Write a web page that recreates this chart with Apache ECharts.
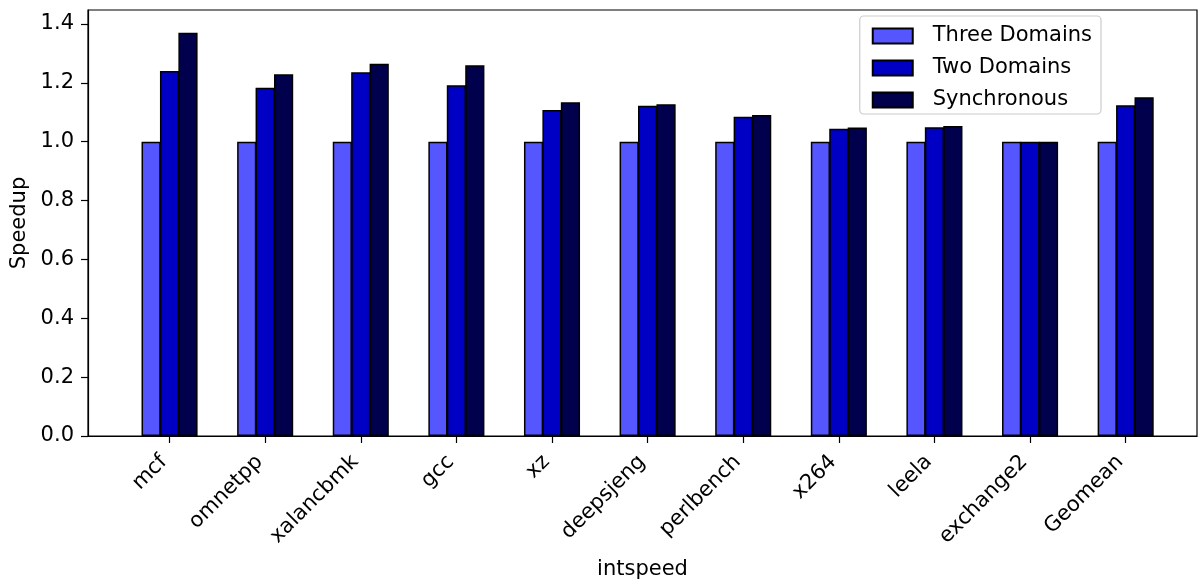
<!DOCTYPE html>
<html>
<head>
<meta charset="utf-8">
<script src="https://cdn.jsdelivr.net/npm/echarts@6/dist/echarts.min.js"></script>
<style>
html,body{margin:0;padding:0;background:#fff;}
#chart{width:1198px;height:580px;}
</style>
</head>
<body>
<div id="chart"></div>
<script>
const categories = ['mcf','omnetpp','xalancbmk','gcc','xz','deepsjeng','perlbench','x264','leela','exchange2','Geomean'];
const threeDomains = [1.0,1.0,1.0,1.0,1.0,1.0,1.0,1.0,1.0,1.0,1.0];
const twoDomains = [1.240,1.183,1.236,1.192,1.108,1.122,1.085,1.044,1.049,1.0,1.124];
const synchronous = [1.370,1.229,1.265,1.260,1.134,1.127,1.091,1.048,1.053,1.0,1.151];
const yTicks = [0,0.2,0.4,0.6,0.8,1.0,1.2,1.4];
const seriesNames = ['Three Domains','Two Domains','Synchronous'];

const font = 'DejaVu Sans';
const fs = 21;
const catIdx = categories.map((c,i)=>i);
function toData(arr){ return arr.map((v,i)=>[i,v]); }
const colors = ['#5656ff','#0000c4','#00004c'];
const values = [threeDomains, twoDomains, synchronous];

const chart = echarts.init(document.getElementById('chart'), null, {renderer:'canvas'});
chart.setOption({
  animation:false,
  backgroundColor:'#fff',
  grid:{left:88,right:1,top:10,bottom:144,show:true,borderColor:'#000',borderWidth:1.2,containLabel:false,outerBoundsMode:'none'},
  legend:{
    orient:'vertical', right:97, top:16,
    itemWidth:40, itemHeight:15, itemGap:10,
    padding:[9,9,3,12],
    backgroundColor:'rgba(255,255,255,0.85)',
    borderColor:'#cccccc', borderWidth:1.2, borderRadius:4,
    icon:'rect',
    textStyle:{fontFamily:font,fontSize:fs,color:'#000',padding:[0,0,0,15],lineHeight:22},
    data:seriesNames
  },
  xAxis:{
    type:'value', min:-0.853, max:10.746,
    name:'intspeed', nameLocation:'middle', nameGap:123,
    nameTextStyle:{fontFamily:font,fontSize:fs,color:'#000'},
    axisLine:{show:true,onZero:false,lineStyle:{color:'#000',width:1.2}},
    axisTick:{show:true,length:7,lineStyle:{color:'#000',width:1.2},customValues:catIdx},
    axisLabel:{fontFamily:font,fontSize:fs,color:'#000',rotate:45,margin:17,padding:[0,8,0,0],customValues:catIdx,
      formatter:(v)=>categories[Math.round(v)]},
    splitLine:{show:false}
  },
  yAxis:{
    type:'value', min:0, max:1.4475,
    name:'Speedup', nameLocation:'middle', nameGap:57,
    nameTextStyle:{fontFamily:font,fontSize:fs,color:'#000'},
    axisLine:{show:true,onZero:false,lineStyle:{color:'#000',width:1.2}},
    axisTick:{show:true,length:7,lineStyle:{color:'#000',width:1.2},customValues:yTicks},
    axisLabel:{fontFamily:font,fontSize:fs,color:'#000',margin:14,customValues:yTicks,
      formatter:(v)=>v.toFixed(1)},
    splitLine:{show:false}
  },
  series: seriesNames.map((n,k)=>({
    name:n, type:'bar', data:toData(values[k]),
    barWidth:19.2, barGap:'-4%',
    itemStyle:{color:colors[k],borderColor:'#000',borderWidth:1.5}
  }))
});
</script>
</body>
</html>
